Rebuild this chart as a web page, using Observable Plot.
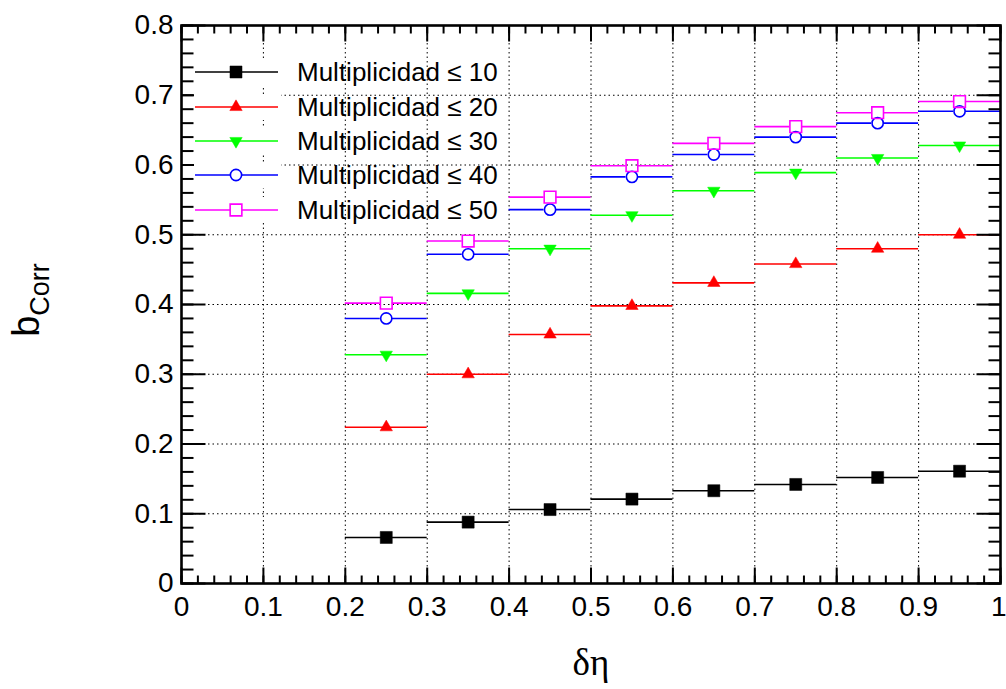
<!DOCTYPE html>
<html><head><meta charset="utf-8">
<script src="https://cdn.jsdelivr.net/npm/d3@7"></script>
<script src="https://cdn.jsdelivr.net/npm/@observablehq/plot@0.6"></script>
<style>
body{margin:0;background:#fff}
#wrap{position:relative;width:1006px;height:689px;background:#fff}
#overlay{position:absolute;left:0;top:0;pointer-events:none}
</style>
</head><body><div id="wrap"></div>
<script>
// ---- data ----
const binLo = [0.2, 0.3, 0.4, 0.5, 0.6, 0.7, 0.8, 0.9];
const binHi = [0.3, 0.4, 0.5, 0.6, 0.7, 0.8, 0.9, 1.0];
const binCenter = [0.25, 0.35, 0.45, 0.55, 0.65, 0.75, 0.85, 0.95];
const mult10 = [0.066, 0.088, 0.106, 0.121, 0.133, 0.142, 0.152, 0.161];
const mult20 = [0.224, 0.300, 0.357, 0.398, 0.431, 0.458, 0.480, 0.500];
const mult30 = [0.328, 0.416, 0.480, 0.528, 0.563, 0.589, 0.610, 0.628];
const mult40 = [0.380, 0.472, 0.536, 0.583, 0.615, 0.640, 0.660, 0.677];
const mult50 = [0.402, 0.491, 0.554, 0.599, 0.631, 0.655, 0.675, 0.691];
const seriesNames = ["Multiplicidad \u2264 10", "Multiplicidad \u2264 20", "Multiplicidad \u2264 30", "Multiplicidad \u2264 40", "Multiplicidad \u2264 50"];
const seriesColors = ["#000000", "#ff0000", "#00ff00", "#0000ff", "#ff00ff"];
const xTickValues = [0, 0.1, 0.2, 0.3, 0.4, 0.5, 0.6, 0.7, 0.8, 0.9, 1];
const xTickLabels = ["0", "0.1", "0.2", "0.3", "0.4", "0.5", "0.6", "0.7", "0.8", "0.9", "1"];
const yTickValues = [0, 0.1, 0.2, 0.3, 0.4, 0.5, 0.6, 0.7, 0.8];
const yTickLabels = ["0", "0.1", "0.2", "0.3", "0.4", "0.5", "0.6", "0.7", "0.8"];

// ---- styles ----
const seriesValues = [mult10, mult20, mult30, mult40, mult50];
const markerStyle = [
  {symbol: "square", filled: true, r: 6.8, rotate: 0, gap: 0},
  {symbol: "triangle", filled: true, r: 4.6, rotate: 0, gap: 0},
  {symbol: "triangle", filled: true, r: 4.6, rotate: 180, gap: 0},
  {symbol: "circle", filled: false, r: 5.6, rotate: 0, gap: 6},
  {symbol: "square", filled: false, r: 6.6, rotate: 0, gap: 6}
];
const FONT = "'Liberation Sans', Arial, Helvetica, sans-serif";

const series = seriesValues.map((vals, s) => vals.map((v, i) => ({
  s, lo: binLo[i], hi: binHi[i], c: binCenter[i], v
})));

const xMinor = d3.range(0, 1.0001, 0.02);
const yMinor = d3.range(0, 0.8001, 0.02);
const xGrid = xTickValues.slice(1, -1);
const yGrid = yTickValues.slice(1, -1);

const tickSym = (dx, dy) => ({draw(ctx) { ctx.moveTo(0, 0); ctx.lineTo(dx, dy); }});
const tickOpts = {stroke: "black", fill: "none", r: 1};

const marks = [
  Plot.ruleX(xGrid, {x: d => d, stroke: "black", strokeWidth: 1, strokeDasharray: "1.5,3"}),
  Plot.ruleY(yGrid, {y: d => d, stroke: "black", strokeWidth: 1, strokeDasharray: "1.5,3"})
];

series.forEach((rows, s) => {
  const st = markerStyle[s];
  const col = seriesColors[s];
  marks.push(
    Plot.ruleY(rows, {x1: "lo", x2: "c", y: "v", stroke: col, strokeWidth: 1.6, insetRight: st.gap}),
    Plot.ruleY(rows, {x1: "c", x2: "hi", y: "v", stroke: col, strokeWidth: 1.6, insetLeft: st.gap}),
    Plot.dot(rows, {
      x: "c", y: "v", symbol: st.symbol, r: st.r, rotate: st.rotate,
      fill: st.filled ? col : "none", stroke: col, strokeWidth: st.filled ? 0.5 : 1.6
    })
  );
});

marks.push(
  // ticks: left, right, bottom, top (inward)
  Plot.dot(yMinor, {y: d => d, frameAnchor: "left", symbol: tickSym(12, 0), strokeWidth: 2, ...tickOpts}),
  Plot.dot(yTickValues, {y: d => d, frameAnchor: "left", symbol: tickSym(24, 0), strokeWidth: 2, ...tickOpts}),
  Plot.dot(yMinor, {y: d => d, frameAnchor: "right", symbol: tickSym(-12, 0), strokeWidth: 2, ...tickOpts}),
  Plot.dot(yTickValues, {y: d => d, frameAnchor: "right", symbol: tickSym(-24, 0), strokeWidth: 2, ...tickOpts}),
  Plot.dot(xMinor, {x: d => d, frameAnchor: "bottom", symbol: tickSym(0, -8), strokeWidth: 2, ...tickOpts}),
  Plot.dot(xTickValues, {x: d => d, frameAnchor: "bottom", symbol: tickSym(0, -16), strokeWidth: 2, ...tickOpts}),
  Plot.dot(xMinor, {x: d => d, frameAnchor: "top", symbol: tickSym(0, 8), strokeWidth: 2, ...tickOpts}),
  Plot.dot(xTickValues, {x: d => d, frameAnchor: "top", symbol: tickSym(0, 16), strokeWidth: 2, ...tickOpts}),
  Plot.frame({stroke: "black", strokeWidth: 2.6}),
  Plot.axisX(xTickValues.slice(0, -1), {tickSize: 0, tickPadding: 13, fontSize: 28, label: null,
    tickFormat: d => xTickLabels[xTickValues.indexOf(d)]}),
  Plot.axisX(xTickValues.slice(-1), {tickSize: 0, tickPadding: 13, fontSize: 28, label: null,
    textAnchor: "end", dx: 6, tickFormat: d => xTickLabels[xTickValues.indexOf(d)]}),
  Plot.axisY({ticks: yTickValues, tickSize: 0, tickPadding: 8, fontSize: 28, label: null,
    tickFormat: d => yTickLabels[yTickValues.indexOf(d)]})
);

const chart = Plot.plot({
  width: 1006, height: 689,
  marginLeft: 181, marginRight: 6, marginTop: 25, marginBottom: 106,
  x: {domain: [0, 1], label: null},
  y: {domain: [0, 0.8], label: null},
  style: {fontFamily: FONT, fontSize: "28px", background: "white", color: "black"},
  marks
});
const wrap = document.getElementById("wrap");
wrap.appendChild(chart);

// ---- overlay: legend and axis titles ----
const ov = d3.select(wrap).append("svg").attr("id", "overlay")
  .attr("width", 1006).attr("height", 689)
  .style("font-family", FONT);

const legendY = [72, 107, 141, 175, 210];
const lg = ov.append("g");
seriesNames.forEach((name, s) => {
  const y = legendY[s];
  const st = markerStyle[s];
  const col = seriesColors[s];
  lg.append("rect").attr("x", 194).attr("y", y - 13).attr("width", 87).attr("height", 26).attr("fill", "white");
  lg.append("line").attr("x1", 195).attr("x2", 236 - st.gap).attr("y1", y).attr("y2", y)
    .attr("stroke", col).attr("stroke-width", 1.6);
  lg.append("line").attr("x1", 236 + st.gap).attr("x2", 278).attr("y1", y).attr("y2", y)
    .attr("stroke", col).attr("stroke-width", 1.6);
  const type = st.symbol === "square" ? d3.symbolSquare : st.symbol === "triangle" ? d3.symbolTriangle : d3.symbolCircle;
  lg.append("path")
    .attr("d", d3.symbol(type, st.r * st.r * Math.PI)())
    .attr("transform", `translate(236,${y}) rotate(${st.rotate})`)
    .attr("fill", st.filled ? col : "none").attr("stroke", col)
    .attr("stroke-width", st.filled ? 0.5 : 1.6);
  lg.append("text").attr("x", 297).attr("y", y).attr("dy", "0.36em")
    .attr("font-size", 26).attr("fill", "black").text(name);
});

// x title
ov.append("text").attr("x", 591).attr("y", 675).attr("text-anchor", "middle")
  .attr("font-family", "'Liberation Serif', 'Times New Roman', serif")
  .attr("font-size", 37).attr("fill", "black").text("\u03b4\u03b7");

// y title
const yt = ov.append("text").attr("transform", "translate(39,300) rotate(-90)")
  .attr("text-anchor", "middle").attr("fill", "black");
yt.append("tspan").attr("font-size", 38).text("b");
yt.append("tspan").attr("font-size", 27).attr("dy", 10).text("Corr");
</script>
</body></html>
